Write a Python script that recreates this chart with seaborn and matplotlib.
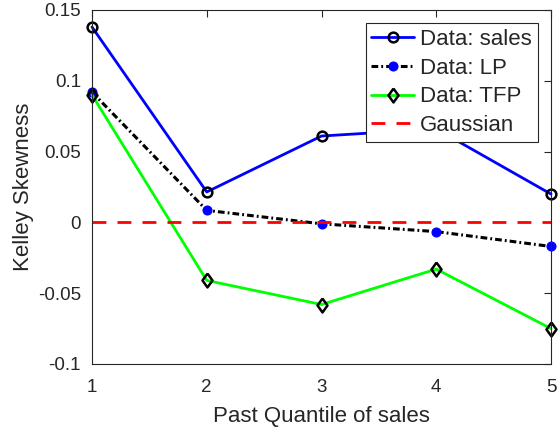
import numpy as np
import pandas as pd
import seaborn as sns
import matplotlib
matplotlib.use("Agg")
import matplotlib.pyplot as plt

quantiles = [1, 2, 3, 4, 5]
sales = [0.138, 0.0215, 0.061, 0.066, 0.020]
lp = [0.092, 0.0085, -0.001, -0.0065, -0.017]
tfp = [0.090, -0.041, -0.058, -0.033, -0.075]
gaussian = [0, 0, 0, 0, 0]
yticks = [-0.1, -0.05, 0, 0.05, 0.1, 0.15]
ytick_labels = ["-0.1", "-0.05", "0", "0.05", "0.1", "0.15"]

sns.set_style("white")
plt.rcParams['font.family'] = ['Liberation Sans', 'DejaVu Sans']

fig = plt.figure(figsize=(5.59, 4.30), dpi=100)
ax = fig.add_axes([92/559, 1 - 364/430, (551-92)/559, (364-10)/430])

df = pd.DataFrame({"q": quantiles, "sales": sales, "lp": lp, "tfp": tfp, "g": gaussian})

diamond = [(0, 1), (0.72, 0), (0, -1), (-0.72, 0), (0, 1)]

sns.lineplot(data=df, x="q", y="sales", ax=ax, color="#0000ff", lw=2,
             marker="o", markersize=7, markerfacecolor="none",
             markeredgecolor="black", markeredgewidth=1.8, label="Data: sales")
sns.lineplot(data=df, x="q", y="lp", ax=ax, color="black", lw=2.2,
             linestyle=(0, (2.2, 1.0, 0.6, 1.0)), marker="o", markersize=6.5,
             markerfacecolor="#0000ff", markeredgecolor="#0000ff", label="Data: LP")
sns.lineplot(data=df, x="q", y="tfp", ax=ax, color="#00ff00", lw=2,
             marker=diamond, markersize=10, markerfacecolor="none",
             markeredgecolor="black", markeredgewidth=1.8, label="Data: TFP")
sns.lineplot(data=df, x="q", y="g", ax=ax, color="#ff0000", lw=2,
             linestyle=(0, (5, 4)), label="Gaussian")

ax.set_xlim(1, 5)
ax.set_ylim(-0.1, 0.15)
ax.set_xticks(quantiles)
ax.set_xticklabels([str(q) for q in quantiles])
ax.set_yticks(yticks)
ax.set_yticklabels(ytick_labels)
ax.tick_params(direction="in", length=5, width=0.8, colors="#262626",
               labelsize=13.5, top=True, right=True, labelcolor="#262626")
ax.tick_params(axis="x", pad=11)
ax.tick_params(axis="y", pad=8)
for s in ax.spines.values():
    s.set_color("#262626")
    s.set_linewidth(0.8)
    s.set_visible(True)
for l in ax.lines:
    l.set_clip_on(False)

ax.set_xlabel("Past Quantile of sales", fontsize=16, color="#262626", labelpad=7)
ax.set_ylabel("Kelley Skewness", fontsize=16, color="#262626", labelpad=3)

leg = ax.legend(loc="upper right", fontsize=16, frameon=True, fancybox=False,
                edgecolor="#262626", framealpha=1, borderpad=0.25,
                handlelength=1.9, handletextpad=0.3, labelspacing=0.35,
                borderaxespad=0.6)
leg.get_frame().set_linewidth(0.8)
leg.set_zorder(10)

fig.savefig("out.png", dpi=100)
